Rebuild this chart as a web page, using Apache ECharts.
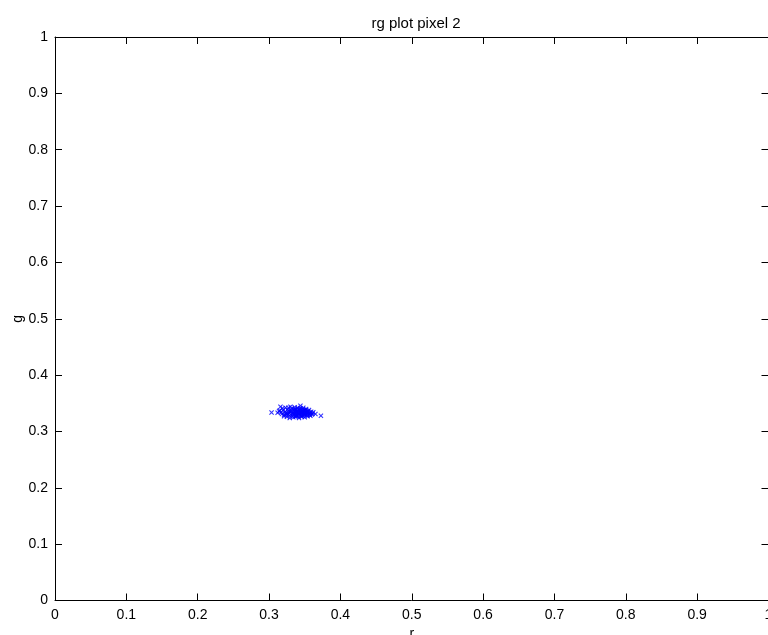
<!DOCTYPE html>
<html>
<head>
<meta charset="utf-8">
<script src="https://cdn.jsdelivr.net/npm/echarts@6/dist/echarts.min.js"></script>
<style>html,body{margin:0;padding:0;background:#fff}#c{width:768px;height:635px}</style>
</head>
<body>
<div id="c"></div>
<script>
const titleText = 'rg plot pixel 2';
const xName = 'r';
const yName = 'g';
const tickValues = [0, 0.1, 0.2, 0.3, 0.4, 0.5, 0.6, 0.7, 0.8, 0.9, 1];
// hand-estimated r values
const rValues = [
0.3035,0.3727,0.365,0.316,0.330,0.344,0.312,0.314,0.318,0.320,
0.322,0.324,0.326,0.328,0.331,0.333,0.335,0.337,0.339,0.341,
0.343,0.345,0.347,0.349,0.351,0.353,0.355,0.357,0.359,0.361,
0.319,0.323,0.327,0.332,0.336,0.340,0.344,0.348,0.352,0.356,
0.321,0.325,0.329,0.334,0.338,0.342,0.346,0.350,0.354,0.358,
0.326,0.330,0.334,0.338,0.342,0.346,0.350,0.354,0.337,0.341,
0.345,0.349,0.340,0.344,0.348,0.336,0.352,0.333,0.339,0.347,
0.315,0.317,0.360,0.362,0.343,0.347,0.351,0.339,0.335,0.331,
0.328,0.324,0.353,0.357,0.345,0.341,0.337,0.349,0.355,0.333,
0.327,0.346,0.342,0.338,0.350,0.354,0.329,0.321,0.358,0.336
];
// hand-estimated g values
const gValues = [
0.3337,0.3278,0.331,0.344,0.344,0.3455,0.333,0.336,0.331,0.338,
0.334,0.330,0.339,0.333,0.336,0.330,0.338,0.333,0.335,0.331,
0.337,0.332,0.335,0.330,0.334,0.331,0.333,0.329,0.335,0.332,
0.341,0.342,0.342,0.341,0.343,0.342,0.341,0.342,0.340,0.338,
0.327,0.326,0.328,0.325,0.327,0.324,0.326,0.325,0.327,0.328,
0.332,0.335,0.333,0.329,0.334,0.336,0.332,0.336,0.339,0.328,
0.329,0.338,0.334,0.334,0.331,0.336,0.337,0.332,0.330,0.328,
0.337,0.334,0.330,0.334,0.340,0.339,0.329,0.328,0.331,0.339,
0.336,0.333,0.333,0.331,0.327,0.339,0.326,0.335,0.336,0.327,
0.330,0.333,0.331,0.337,0.338,0.329,0.324,0.329,0.333,0.340
];

const pts = rValues.map((r, i) => [r, gValues[i]]);
const font = 'Liberation Sans, Arial, Helvetica, sans-serif';
const xMark = 'path://M0,1.5L1.5,0L5,3.5L8.5,0L10,1.5L6.5,5L10,8.5L8.5,10L5,6.5L1.5,10L0,8.5L3.5,5Z';

function labelStyle(margin) {
  return {
    color: '#000', fontSize: 14, fontFamily: font, margin: margin,
    formatter: v => String(+(+v).toFixed(1))
  };
}
function axisCommon(show, margin) {
  return {
    type: 'value', min: 0, max: 1, interval: 0.1,
    axisLine: { show: true, onZero: false, lineStyle: { color: '#000', width: 1 } },
    axisTick: { show: true, inside: true, length: 7, lineStyle: { color: '#000', width: 1 } },
    splitLine: { show: false },
    axisLabel: show ? labelStyle(margin) : { show: false }
  };
}

const chart = echarts.init(document.getElementById('c'), null, { renderer: 'canvas' });
chart.setOption({
  animation: false,
  backgroundColor: '#fff',
  title: {
    text: titleText, left: 411, top: 11, textAlign: 'center',
    textStyle: { color: '#000', fontSize: 15, fontWeight: 'normal', fontFamily: font }
  },
  grid: { left: 55, top: 37, width: 713.5, height: 563.5, containLabel: false, outerBoundsMode: 'none' },
  xAxis: [
    Object.assign(axisCommon(true, 8), {
      position: 'bottom', name: xName, nameLocation: 'middle', nameGap: 27, nameMoveOverlap: false,
      nameTextStyle: { color: '#000', fontSize: 14, fontFamily: font }
    }),
    Object.assign(axisCommon(false), { position: 'top' })
  ],
  yAxis: [
    Object.assign(axisCommon(true, 7), {
      position: 'left', name: yName, nameLocation: 'middle', nameGap: 30, nameRotate: 90, nameMoveOverlap: false,
      nameTextStyle: { color: '#000', fontSize: 14, fontFamily: font }
    }),
    Object.assign(axisCommon(false), { position: 'right' })
  ],
  series: [{
    type: 'scatter', data: pts, xAxisIndex: 0, yAxisIndex: 0,
    symbol: xMark, symbolSize: 5,
    itemStyle: { color: '#0000ff' }
  }]
});
</script>
</body>
</html>
